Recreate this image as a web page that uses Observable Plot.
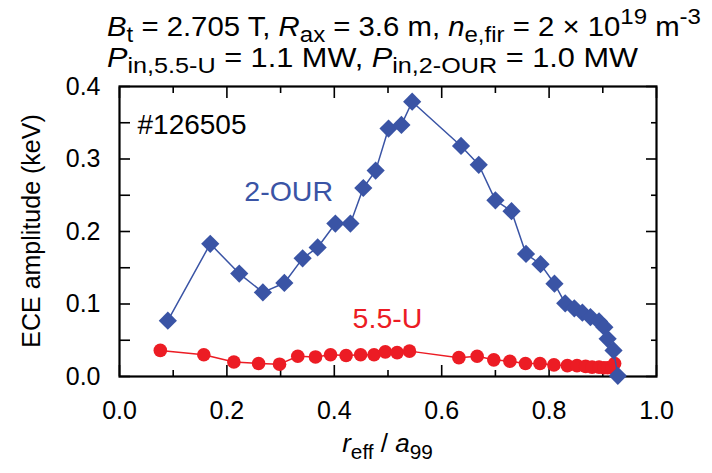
<!DOCTYPE html>
<html><head><meta charset="utf-8">
<script src="https://cdn.jsdelivr.net/npm/d3@7"></script>
<script src="https://cdn.jsdelivr.net/npm/@observablehq/plot@0.6"></script>
<style>
body{margin:0;background:#fff}
svg{font-family:"Liberation Sans",Arial,Helvetica,sans-serif}
</style>
</head><body><div id="chart"></div>
<script>
// 2-OUR series
const rOUR = [0.090,0.169,0.223,0.267,0.307,0.341,0.369,0.402,0.430,0.454,0.477,0.501,0.525,0.545,0.636,0.669,0.700,0.730,0.757,0.784,0.810,0.830,0.847,0.862,0.877,0.893,0.903,0.909,0.920,0.928];
const aOUR = [0.077,0.183,0.142,0.116,0.129,0.163,0.178,0.211,0.211,0.260,0.284,0.342,0.347,0.379,0.318,0.292,0.243,0.228,0.169,0.155,0.128,0.101,0.094,0.088,0.082,0.076,0.068,0.052,0.036,0.001];
// 5.5-U series
const rU = [0.076,0.157,0.213,0.259,0.298,0.332,0.365,0.393,0.422,0.449,0.474,0.495,0.517,0.540,0.632,0.666,0.697,0.727,0.756,0.783,0.809,0.834,0.852,0.868,0.880,0.893,0.902,0.909,0.917,0.922];
const aU = [0.036,0.030,0.020,0.018,0.017,0.028,0.027,0.030,0.029,0.030,0.030,0.034,0.033,0.035,0.026,0.028,0.023,0.021,0.018,0.018,0.016,0.015,0.015,0.014,0.013,0.013,0.012,0.012,0.012,0.018];
// ticks
const xMajor = [0.0,0.2,0.4,0.6,0.8,1.0];
const xMinor = [0.1,0.3,0.5,0.7,0.9];
const yMajor = [0.0,0.1,0.2,0.3,0.4];
const yMinor = [0.05,0.15,0.25,0.35];
const seriesNames = ["2-OUR","5.5-U"];
const shotLabel = "#126505";

const blue = "#3a54a5", red = "#ec1c24";
const our = rOUR.map((r,i)=>({r, a:aOUR[i]}));
const u = rU.map((r,i)=>({r, a:aU[i]}));
const blank = () => "";

const chart = Plot.plot({
  width: 712, height: 473,
  marginLeft: 119, marginRight: 56, marginTop: 86, marginBottom: 97,
  x: {domain: [0, 1]},
  y: {domain: [0, 0.4]},
  style: {fontFamily: '"Liberation Sans",Arial,sans-serif', background: "white", color: "black", overflow: "visible"},
  marks: [
    Plot.axisX(xMajor, {anchor: "bottom", tickSize: -11, tickPadding: 36, tickFormat: d => d.toFixed(1), fontSize: 25, label: null, strokeWidth: 1.6}),
    Plot.axisX(xMinor, {anchor: "bottom", tickSize: -6, tickFormat: blank, label: null, strokeWidth: 1.6}),
    Plot.axisX(xMajor, {anchor: "top", tickSize: -11, tickFormat: blank, label: null, strokeWidth: 1.6}),
    Plot.axisX(xMinor, {anchor: "top", tickSize: -6, tickFormat: blank, label: null, strokeWidth: 1.6}),
    Plot.axisY(yMajor, {anchor: "left", tickSize: -11, tickPadding: 30, tickFormat: d => d.toFixed(1), fontSize: 25, label: null, strokeWidth: 1.6}),
    Plot.axisY(yMinor, {anchor: "left", tickSize: -11, tickFormat: blank, label: null, strokeWidth: 1.6}),
    Plot.axisY(yMajor, {anchor: "right", tickSize: -11, tickFormat: blank, label: null, strokeWidth: 1.6}),
    Plot.axisY(yMinor, {anchor: "right", tickSize: -6, tickFormat: blank, label: null, strokeWidth: 1.6}),
    Plot.frame({stroke: "black", strokeWidth: 2.2}),
    Plot.line(u, {x: "r", y: "a", stroke: red, strokeWidth: 1.5}),
    Plot.dot(u, {x: "r", y: "a", r: 6.8, fill: red, stroke: "none"}),
    Plot.line(our, {x: "r", y: "a", stroke: blue, strokeWidth: 1.5}),
    Plot.dot(our, {x: "r", y: "a", r: 8.2, symbol: "diamond2", fill: blue, stroke: "none"}),
    Plot.text([shotLabel], {frameAnchor: "top-left", dx: 18, dy: 28, textAnchor: "start", fontSize: 28, fill: "black"}),
    Plot.text([seriesNames[0]], {x: () => 0.315, y: () => 0.254, fontSize: 28.5, fill: blue}),
    Plot.text([seriesNames[1]], {x: () => 0.499, y: () => 0.080, fontSize: 28.5, fill: red})
  ]
});
document.getElementById("chart").appendChild(chart);

// rich text helpers (title and axis labels)
const svg = d3.select(chart);
function rich(g, parts, subShift = 6, supShift = -12, subSize = "0.82em") {
  let shift = 0;
  parts.forEach(p => {
    const target = p.sub ? subShift : p.sup ? supShift : 0;
    const ts = g.append("tspan").attr("dy", target - shift).text(p.t);
    if (p.i) ts.attr("font-style", "italic");
    if (p.sub || p.sup) ts.attr("font-size", subSize);
    shift = target;
  });
  return g;
}
const t1 = svg.append("text").attr("x", 107).attr("y", 36).attr("font-size", 28).attr("text-anchor", "start").attr("fill", "black")
  .attr("textLength", 594).attr("lengthAdjust", "spacingAndGlyphs");
rich(t1, [{t:"B",i:1},{t:"t",sub:1},{t:" = 2.705 T, "},{t:"R",i:1},{t:"ax",sub:1},{t:" = 3.6 m, "},{t:"n",i:1},{t:"e,fir",sub:1},{t:" = 2 × 10"},{t:"19",sup:1},{t:" m"},{t:"-3",sup:1}]);
const t2 = svg.append("text").attr("x", 107).attr("y", 67).attr("font-size", 28).attr("text-anchor", "start").attr("fill", "black")
  .attr("textLength", 531).attr("lengthAdjust", "spacingAndGlyphs");
rich(t2, [{t:"P",i:1},{t:"in,5.5-U",sub:1},{t:" = 1.1 MW, "},{t:"P",i:1},{t:"in,2-OUR",sub:1},{t:" = 1.0 MW"}]);
const xl = svg.append("text").attr("x", 387.5).attr("y", 452).attr("font-size", 26).attr("text-anchor", "middle").attr("fill", "black");
rich(xl, [{t:"r",i:1},{t:"eff",sub:1},{t:" / "},{t:"a",i:1},{t:"99",sub:1}], 7, -12, "0.8em");
const yl = svg.append("text").attr("transform", "translate(40,231) rotate(-90)").attr("font-size", 25).attr("text-anchor", "middle").attr("fill", "black");
rich(yl, [{t:"ECE amplitude (keV)"}]);
</script>
</body></html>
